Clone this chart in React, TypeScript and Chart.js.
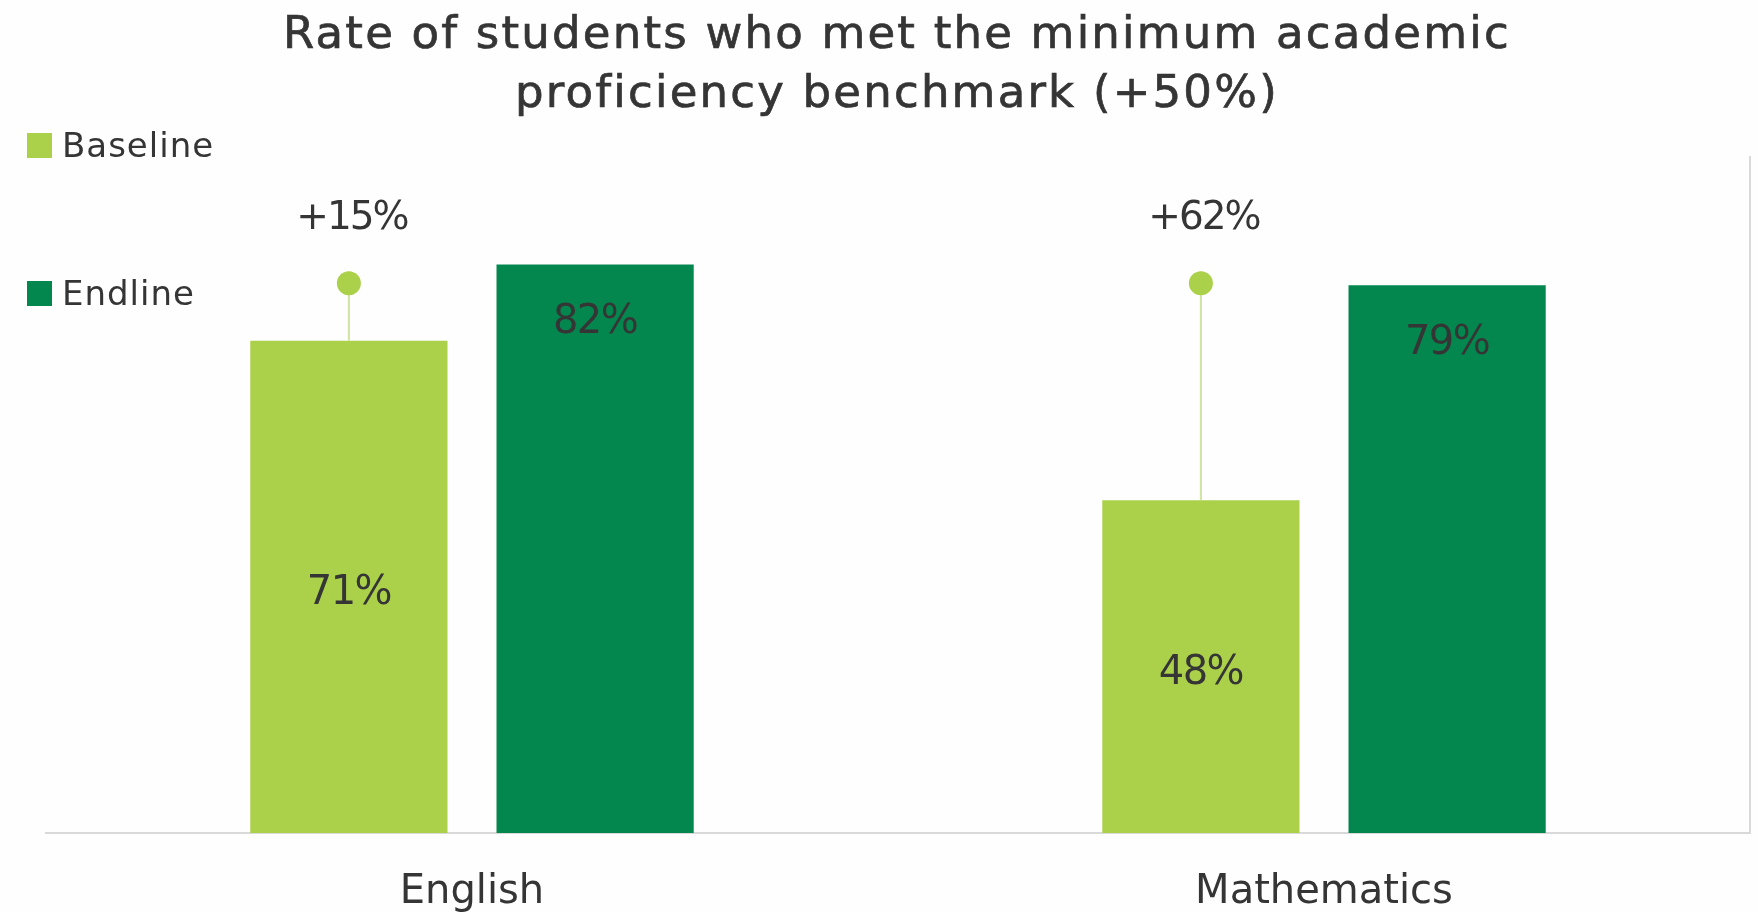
import React, { useEffect, useRef } from "react";
import { Chart, registerables } from "chart.js";

Chart.register(...registerables);

const titleLines = ["Rate of students who met the minimum academic", "proficiency benchmark (+50%)"];
const categories = ["English", "Mathematics"];
const seriesNames = ["Baseline", "Endline"];
const baselineValues = [71, 48];
const endlineValues = [82, 79];
const changeLabels = ["+15%", "+62%"];
const markerLevel = 79.3;
const yMax = 97.5;

const baselineColor = "#abd04a";
const endlineColor = "#04874e";
const stemColor = "#cfe3a2";
const textColor = "#353535";
const axisColor = "#d9d9d9";
const FONT = "'DejaVu Sans', sans-serif";

const overlayPlugin = {
  id: "overlay",
  afterDatasetsDraw(chart: any) {
    const ctx = chart.ctx;
    const y = chart.scales.y;
    const m0 = chart.getDatasetMeta(0);
    const m1 = chart.getDatasetMeta(1);
    ctx.save();
    ctx.textAlign = "center";
    ctx.textBaseline = "alphabetic";
    m0.data.forEach((el: any, i: number) => {
      const dotY = y.getPixelForValue(markerLevel);
      ctx.strokeStyle = stemColor;
      ctx.lineWidth = 2;
      ctx.beginPath();
      ctx.moveTo(el.x, dotY);
      ctx.lineTo(el.x, el.y);
      ctx.stroke();
      ctx.fillStyle = baselineColor;
      ctx.beginPath();
      ctx.arc(el.x, dotY, 12, 0, Math.PI * 2);
      ctx.fill();
      ctx.fillStyle = textColor;
      ctx.font = `39px ${FONT}`;
      (ctx as any).letterSpacing = "-2px";
      ctx.fillText(changeLabels[i], el.x + 3, dotY - 54);
      (ctx as any).letterSpacing = "-1.5px";
      ctx.font = `40px ${FONT}`;
      ctx.fillText(baselineValues[i] + "%", el.x, (el.y + el.base) / 2 + 17);
    });
    m1.data.forEach((el: any, i: number) => {
      ctx.fillStyle = textColor;
      ctx.font = `40px ${FONT}`;
      (ctx as any).letterSpacing = "-1.5px";
      ctx.fillText(endlineValues[i] + "%", el.x, el.y + 69);
    });
    ctx.restore();
  },
  afterDraw(chart: any) {
    const ctx = chart.ctx;
    ctx.save();
    // title
    ctx.fillStyle = textColor;
    ctx.strokeStyle = textColor;
    ctx.lineWidth = 0.7;
    ctx.textAlign = "center";
    ctx.textBaseline = "alphabetic";
    ctx.font = `45px ${FONT}`;
    (ctx as any).letterSpacing = "2.2px";
    ctx.fillText(titleLines[0], 897, 48);
    ctx.strokeText(titleLines[0], 897, 48);
    ctx.fillText(titleLines[1], 897, 107);
    ctx.strokeText(titleLines[1], 897, 107);
    // legend
    const colors = [baselineColor, endlineColor];
    const legendTops = [133, 281];
    ctx.textAlign = "left";
    ctx.font = `34px ${FONT}`;
    (ctx as any).letterSpacing = "1px";
    seriesNames.forEach((n, i) => {
      ctx.fillStyle = colors[i];
      ctx.fillRect(27, legendTops[i], 25, 25);
      ctx.fillStyle = textColor;
      ctx.fillText(n, 62, legendTops[i] + 24);
    });
    ctx.restore();
  },
};

export default function App() {
  const ref = useRef<HTMLCanvasElement | null>(null);
  useEffect(() => {
    if (!ref.current) return;
    const chart = new Chart(ref.current, {
      type: "bar",
      data: {
        labels: categories,
        datasets: [
          { label: seriesNames[0], data: baselineValues, backgroundColor: baselineColor, categoryPercentage: 0.578, barPercentage: 0.801 },
          { label: seriesNames[1], data: endlineValues, backgroundColor: endlineColor, categoryPercentage: 0.578, barPercentage: 0.801 },
        ],
      },
      options: {
        animation: false,
        responsive: true,
        maintainAspectRatio: false,
        layout: { padding: { left: 46, right: 8, top: 157, bottom: 0 } },
        plugins: { legend: { display: false }, title: { display: false }, tooltip: { enabled: false } },
        scales: {
          x: {
            grid: { display: false, drawTicks: false },
            border: { display: true, color: axisColor, width: 2 },
            ticks: { color: textColor, font: { family: FONT, size: 40 }, padding: 36 },
            afterFit: (s: any) => { s.height = 79; },
          },
          y: { display: false, min: 0, max: yMax },
          yR: {
            type: "linear",
            position: "right",
            min: 0,
            max: yMax,
            grid: { display: false, drawTicks: false },
            ticks: { display: false },
            border: { display: true, color: axisColor, width: 2 },
            afterFit: (s: any) => { s.width = 0; },
          },
        },
      },
      plugins: [overlayPlugin],
    });
    return () => chart.destroy();
  }, []);
  return (
    <div style={{ position: "fixed", left: 0, top: 0, width: 1758, height: 912, background: "#fefefe" }}>
      <canvas ref={ref} />
    </div>
  );
}
